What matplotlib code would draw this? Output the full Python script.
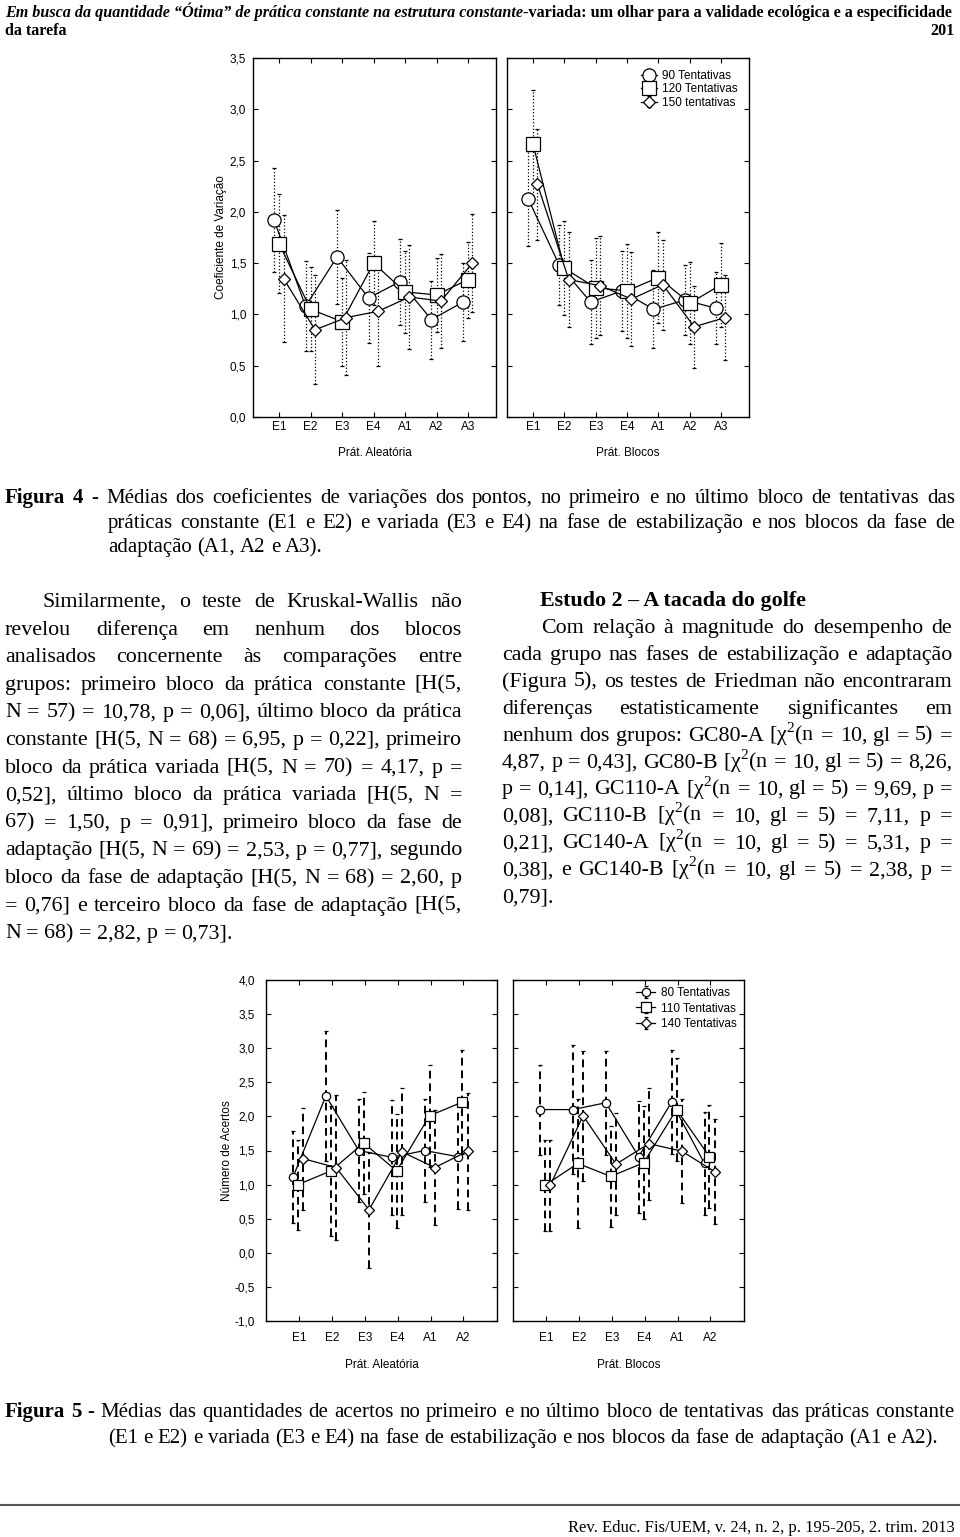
import numpy as np
import matplotlib
matplotlib.use("Agg")
import matplotlib.pyplot as plt
from matplotlib.ticker import FuncFormatter

W, H = 960, 1537
SERIF = "Liberation Serif"
SANS = "Liberation Sans"

plt.rcParams['font.family'] = SANS
plt.rcParams['mathtext.fontset'] = 'custom'
plt.rcParams['mathtext.rm'] = SERIF

# ---------------- Figura 4 (coeficiente de variacao) ----------------
blocks4 = ["E1", "E2", "E3", "E4", "A1", "A2", "A3"]
labels4 = ["90 Tentativas", "120 Tentativas", "150 tentativas"]

# Prat. Aleatoria
c4_alea = [1.92, 1.08, 1.56, 1.16, 1.32, 0.95, 1.12]
s4_alea = [1.69, 1.05, 0.93, 1.50, 1.22, 1.19, 1.34]
d4_alea = [1.35, 0.85, 0.97, 1.03, 1.17, 1.13, 1.50]
c4_alea_err = [0.51, 0.44, 0.46, 0.44, 0.42, 0.38, 0.38]
s4_alea_err = [0.48, 0.41, 0.43, 0.41, 0.40, 0.36, 0.37]
d4_alea_err = [0.62, 0.53, 0.56, 0.53, 0.51, 0.46, 0.48]

# Prat. Blocos
c4_bloc = [2.13, 1.48, 1.12, 1.23, 1.05, 1.14, 1.06]
s4_bloc = [2.66, 1.45, 1.26, 1.23, 1.36, 1.11, 1.29]
d4_bloc = [2.27, 1.34, 1.28, 1.15, 1.29, 0.88, 0.97]
c4_bloc_err = [0.46, 0.39, 0.41, 0.39, 0.38, 0.34, 0.35]
s4_bloc_err = [0.53, 0.46, 0.49, 0.46, 0.44, 0.40, 0.41]
d4_bloc_err = [0.54, 0.46, 0.48, 0.46, 0.44, 0.40, 0.41]

# ---------------- Figura 5 (numero de acertos) ----------------
blocks5 = ["E1", "E2", "E3", "E4", "A1", "A2"]
labels5 = ["80 Tentativas", "110 Tentativas", "140 Tentativas"]

c5_alea = [1.11, 2.30, 1.50, 1.40, 1.50, 1.41]
s5_alea = [1.00, 1.20, 1.61, 1.20, 2.01, 2.21]
d5_alea = [1.38, 1.25, 0.63, 1.48, 1.25, 1.49]
c5_alea_err = [0.67, 0.95, 0.76, 0.84, 0.76, 0.77]
s5_alea_err = [0.66, 0.95, 0.75, 0.83, 0.75, 0.76]
d5_alea_err = [0.75, 1.06, 0.85, 0.93, 0.84, 0.86]

c5_bloc = [2.10, 2.10, 2.20, 1.41, 2.21, 1.31]
s5_bloc = [0.99, 1.31, 1.12, 1.32, 2.10, 1.41]
d5_bloc = [0.99, 2.01, 1.30, 1.60, 1.49, 1.19]
c5_bloc_err = [0.66, 0.95, 0.76, 0.82, 0.76, 0.76]
s5_bloc_err = [0.67, 0.94, 0.74, 0.83, 0.75, 0.76]
d5_bloc_err = [0.67, 0.95, 0.75, 0.82, 0.76, 0.77]

# ---------------- page text ----------------
header_1 = ("Em busca da quantidade “Ótima” de prática constante na estrutura constante",
            "-variada: um olhar para a validade ecológica e a especificidade")
header_2 = "da tarefa"
page_no = "201"

caption4 = ["Figura 4 - Médias dos coeficientes de variações dos pontos, no primeiro e no último bloco de tentativas das",
            "práticas constante (E1 e E2) e variada (E3 e E4) na fase de estabilização e nos blocos da fase de",
            "adaptação (A1, A2 e A3)."]

left_col = ["Similarmente, o teste de Kruskal-Wallis não",
            "revelou diferença em nenhum dos blocos",
            "analisados concernente às comparações entre",
            "grupos: primeiro bloco da prática constante [H(5,",
            "N = 57) = 10,78, p = 0,06], último bloco da prática",
            "constante [H(5, N = 68) = 6,95, p = 0,22], primeiro",
            "bloco da prática variada [H(5, N = 70) = 4,17, p =",
            "0,52], último bloco da prática variada [H(5, N =",
            "67) = 1,50, p = 0,91], primeiro bloco da fase de",
            "adaptação [H(5, N = 69) = 2,53, p = 0,77], segundo",
            "bloco da fase de adaptação [H(5, N = 68) = 2,60, p",
            "= 0,76] e terceiro bloco da fase de adaptação [H(5,",
            "N = 68) = 2,82, p = 0,73]."]

right_title = "Estudo 2 – A tacada do golfe"
right_col = ["Com relação à magnitude do desempenho de",
             "cada grupo nas fases de estabilização e adaptação",
             "(Figura 5), os testes de Friedman não encontraram",
             "diferenças estatisticamente significantes em",
             "nenhum dos grupos: GC80-A [χ$^2$(n = 10, gl = 5) =",
             "4,87, p = 0,43], GC80-B [χ$^2$(n = 10, gl = 5) = 8,26,",
             "p = 0,14], GC110-A [χ$^2$(n = 10, gl = 5) = 9,69, p =",
             "0,08], GC110-B [χ$^2$(n = 10, gl = 5) = 7,11, p =",
             "0,21], GC140-A [χ$^2$(n = 10, gl = 5) = 5,31, p =",
             "0,38], e GC140-B [χ$^2$(n = 10, gl = 5) = 2,38, p =",
             "0,79]."]

caption5 = ["Figura 5 - Médias das quantidades de acertos no primeiro e no último bloco de tentativas das práticas constante",
            "(E1 e E2) e variada (E3 e E4) na fase de estabilização e nos blocos da fase de adaptação (A1 e A2)."]

footer = "Rev. Educ. Fis/UEM, v. 24, n. 2, p. 195-205, 2. trim. 2013"

fig = plt.figure(figsize=(W / 100, H / 100), dpi=100)
fig.patch.set_facecolor("white")


def fx(x):
    return x / W


def fy(y):
    return 1 - y / H


def axes_px(x0, y0, x1, y1):
    return fig.add_axes([fx(x0), fy(y1), (x1 - x0) / W, (y1 - y0) / H])


comma = FuncFormatter(lambda v, p: f"{v:.1f}".replace(".", ","))
MARKERS = ["o", "s", "D"]


def panel(ax, cats, series, errs, offsets, sizes, ls, elw, xlim, ylim, xlabel, show_y, xpad, ypad, xlab_pad):
    x = np.arange(len(cats))
    conts = []
    for m, e, mk, off, ms in zip(series, errs, MARKERS, offsets, sizes):
        eb = ax.errorbar(x + off, m, yerr=e, fmt="-", marker=mk, color="black", mfc="white",
                         mec="black", mew=0.9, ms=ms, lw=0.9, elinewidth=elw, capsize=1.5,
                         capthick=elw, ecolor="black")
        eb[2][0].set_linestyle(ls)
        conts.append(eb)
    ax.set_xlim(*xlim)
    ax.set_ylim(*ylim)
    ax.set_xticks(x)
    ax.set_xticklabels(cats)
    ax.set_yticks(np.arange(ylim[0], ylim[1] + 0.01, 0.5))
    ax.yaxis.set_major_formatter(comma)
    ax.tick_params(direction="in", top=True, right=True, length=3.5, width=0.8,
                   labelsize=8.5, pad=xpad)
    ax.tick_params(axis="y", pad=ypad)
    if not show_y:
        ax.tick_params(axis="y", labelleft=False)
    for sp in ax.spines.values():
        sp.set_linewidth(1.0)
    ax.set_xlabel(xlabel, fontsize=8.5, labelpad=xlab_pad)
    return conts


# ---- Figura 4 panels
ax1 = axes_px(253, 58, 496, 417)
panel(ax1, blocks4, [c4_alea, s4_alea, d4_alea], [c4_alea_err, s4_alea_err, d4_alea_err],
      [-0.16, 0.0, 0.14], [9.5, 9.5, 6.5], ":", 0.9, (-0.83, 6.89), (0, 3.5),
      "Prát. Aleatória", True, 3, 5, 10)
ax1.set_ylabel("Coeficiente de Variação", fontsize=8.5, labelpad=2)

ax2 = axes_px(507, 58, 749, 417)
h4 = panel(ax2, blocks4, [c4_bloc, s4_bloc, d4_bloc], [c4_bloc_err, s4_bloc_err, d4_bloc_err],
           [-0.16, 0.0, 0.14], [9.5, 9.5, 6.5], ":", 0.9, (-0.83, 6.89), (0, 3.5),
           "Prát. Blocos", False, 3, 5, 10)
ax2.legend(h4, labels4, loc="upper right", frameon=False, fontsize=8.5, handlelength=1.3,
           handletextpad=0.4, labelspacing=0.12, borderaxespad=0.6, borderpad=0.4)

# ---- Figura 5 panels
ax3 = axes_px(266, 980, 497, 1321)
panel(ax3, blocks5, [c5_alea, s5_alea, d5_alea], [c5_alea_err, s5_alea_err, d5_alea_err],
      [-0.18, -0.03, 0.13], [6, 6.5, 5.5], (0, (4, 2.5)), 1.4, (-1.0, 6.02), (-1, 4),
      "Prát. Aleatória", True, 8, 8, 11)
ax3.set_ylabel("Número de Acertos", fontsize=8.5, labelpad=1)

ax4 = axes_px(513, 980, 744, 1321)
h5 = panel(ax4, blocks5, [c5_bloc, s5_bloc, d5_bloc], [c5_bloc_err, s5_bloc_err, d5_bloc_err],
           [-0.18, -0.03, 0.13], [6, 6.5, 5.5], (0, (4, 2.5)), 1.4, (-1.0, 6.02), (-1, 4),
           "Prát. Blocos", False, 8, 8, 11)
ax4.legend(h5, labels5, loc="upper right", frameon=False, fontsize=8.5, handlelength=1.6,
           handletextpad=0.5, labelspacing=0.3, borderaxespad=0.3, borderpad=0.3)

# ---------------- page text ----------------
renderer = fig.canvas.get_renderer()
BASE = 6  # baseline offset from the measured line centre, px


def justify(line, x0, x1, y, size, bold_n=0, last=False):
    words = line.split(" ")
    arts = []
    for i, w in enumerate(words):
        t = fig.text(fx(x0), fy(y + BASE), w, fontsize=size, family=SERIF, va="baseline",
                     ha="left", weight="bold" if i < bold_n else "normal")
        arts.append(t)
    widths = [t.get_window_extent(renderer).width for t in arts]
    space = size * 100 / 72 * 0.25
    if last or len(words) < 2:
        gap = space
    else:
        gap = (x1 - x0 - sum(widths)) / (len(words) - 1)
    x = x0
    for t, w in zip(arts, widths):
        t.set_x(fx(x))
        x += w + gap


# header
hs = 11.6
t1 = fig.text(fx(5), fy(13 + 4), header_1[0], fontsize=hs, family=SERIF, weight="bold",
              style="italic", va="baseline", ha="left")
w1 = t1.get_window_extent(renderer).width
fig.text(fx(5 + w1), fy(13 + 4), header_1[1], fontsize=hs, family=SERIF, weight="bold",
         va="baseline", ha="left")
fig.text(fx(5), fy(31 + 4), header_2, fontsize=hs, family=SERIF, weight="bold", va="baseline")
fig.text(fx(955), fy(31 + 4), page_no, fontsize=hs, family=SERIF, weight="bold",
         va="baseline", ha="right")

# caption figura 4
cs = 15.0
justify(caption4[0], 5, 955, 497, cs, bold_n=3)
justify(caption4[1], 108, 955, 522, cs)
justify(caption4[2], 108, 955, 546, cs, last=True)

# left column
bs = 15.8
for i, line in enumerate(left_col):
    x0 = 43 if i == 0 else 5
    justify(line, x0, 462, 601 + 27.6 * i, bs, last=(i == len(left_col) - 1))

# right column
fig.text(fx(540), fy(600 + BASE), right_title, fontsize=bs, family=SERIF, weight="bold",
         va="baseline")
for i, line in enumerate(right_col):
    x0 = 541 if i == 0 else 502
    justify(line, x0, 952, 627 + 26.9 * i, bs, last=(i == len(right_col) - 1))

# caption figura 5
justify(caption5[0], 5, 955, 1411, cs, bold_n=3)
justify(caption5[1], 108, 955, 1437, cs, last=True)

# footer
fig.add_artist(plt.Line2D([0, 1], [fy(1505), fy(1505)], color="#555555", lw=1.5))
fig.text(fx(955), fy(1527 + 5), footer, fontsize=12, family=SERIF, va="baseline", ha="right")

fig.savefig("out.png", dpi=100, facecolor="white")
